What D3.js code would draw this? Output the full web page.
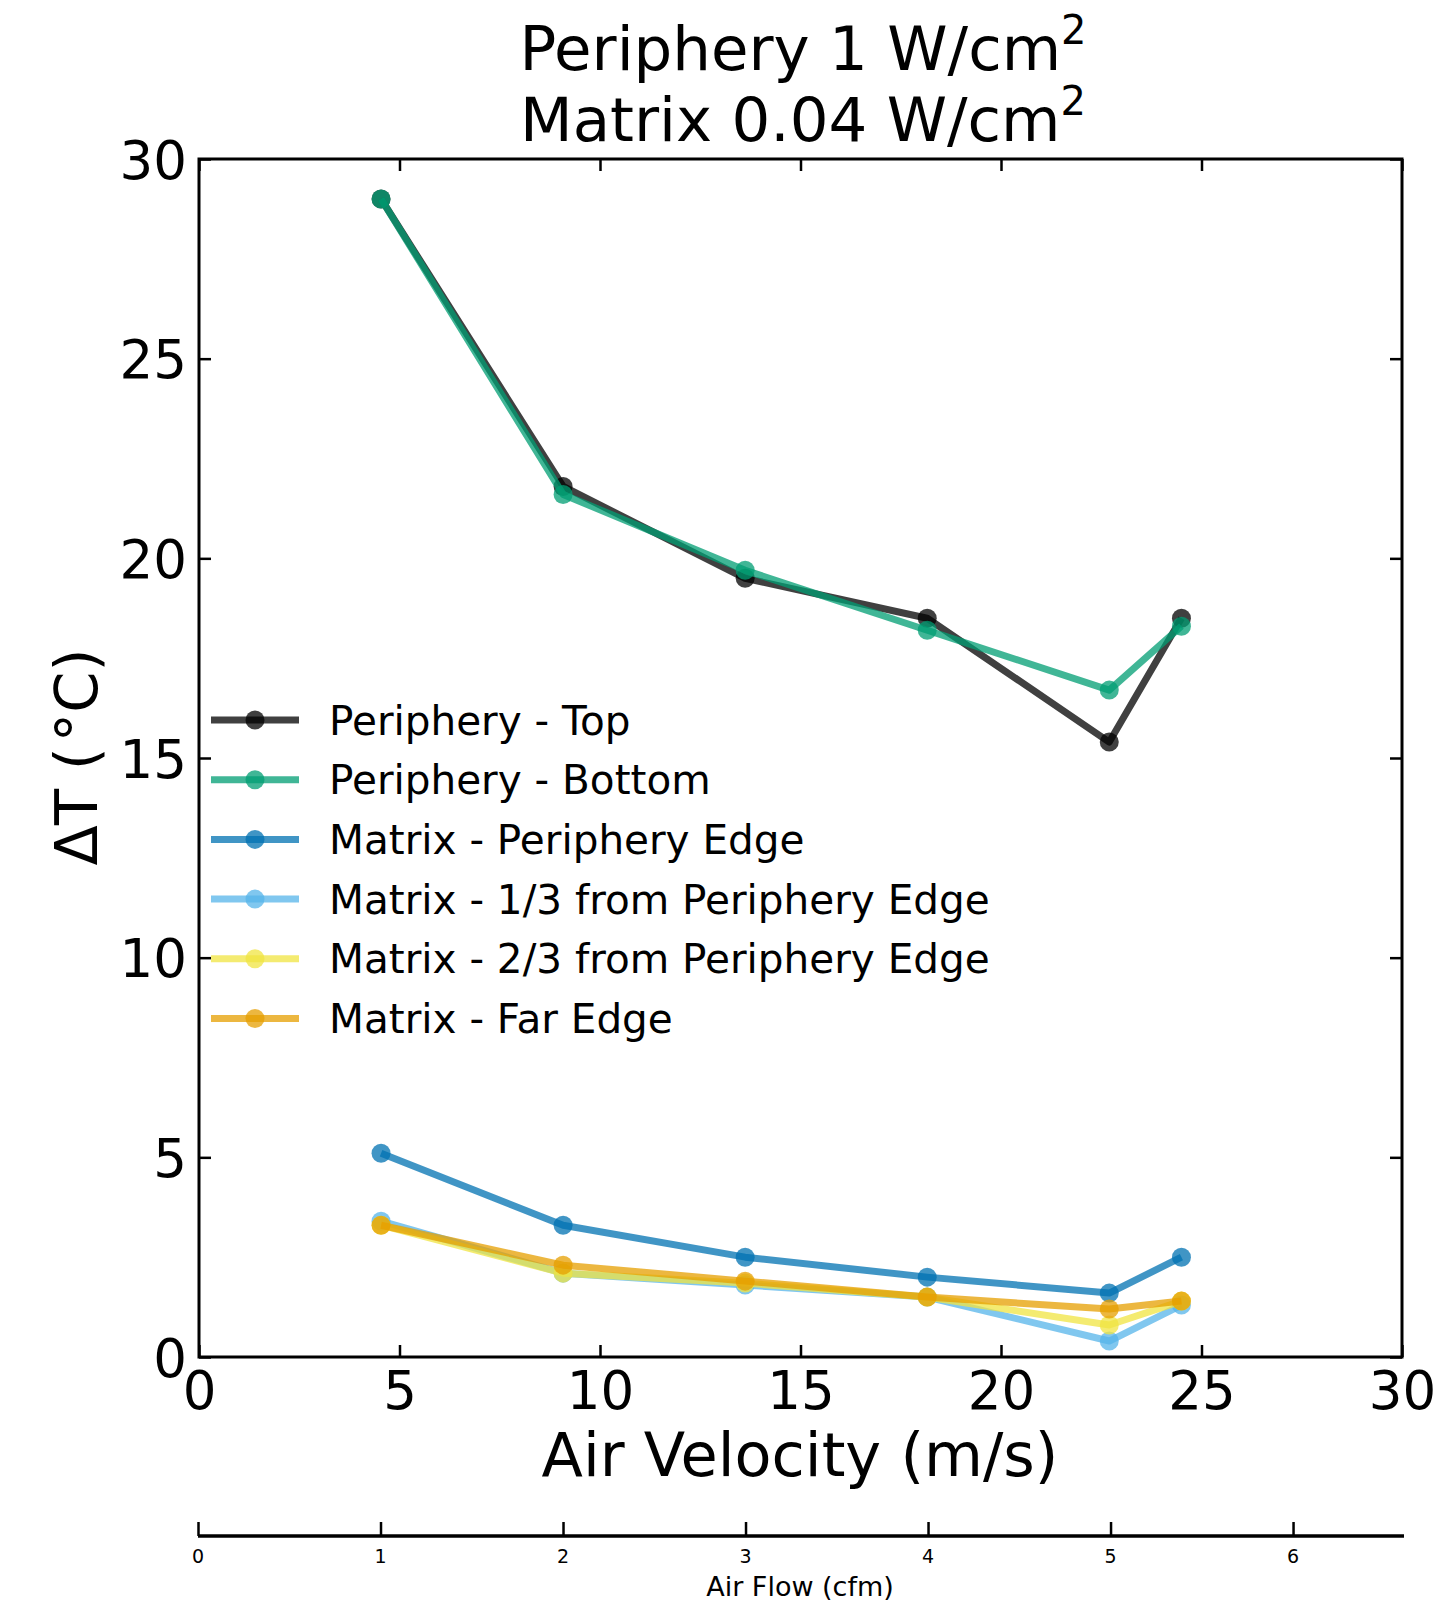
<!DOCTYPE html>
<html><head><meta charset="utf-8">
<script src="https://cdn.jsdelivr.net/npm/d3@7"></script>
<style>
html,body{margin:0;padding:0;background:#fff;}
text{font-family:"DejaVu Sans",sans-serif;fill:#000;}
</style></head>
<body>
<svg id="chart" width="1455" height="1602"></svg>
<script>
// ---- data ----
const velocity = [4.54, 9.08, 13.62, 18.16, 22.7, 24.5];
const seriesNames = ["Periphery - Top","Periphery - Bottom","Matrix - Periphery Edge","Matrix - 1/3 from Periphery Edge","Matrix - 2/3 from Periphery Edge","Matrix - Far Edge"];
const peripheryTop    = [29.0, 21.8, 19.5, 18.5, 15.4, 18.5];
const peripheryBottom = [29.0, 21.6, 19.7, 18.2, 16.7, 18.3];
const matrixEdge      = [5.1, 3.3, 2.5, 2.0, 1.6, 2.5];
const matrixThird     = [3.4, 2.1, 1.8, 1.5, 0.4, 1.3];
const matrixTwoThird  = [3.3, 2.1, 1.85, 1.5, 0.8, 1.4];
const matrixFar       = [3.3, 2.3, 1.9, 1.5, 1.2, 1.4];
const seriesColors = ["#000000","#009E73","#0072B2","#56B4E9","#F0E442","#E69F00"];
const xTicks = [0,5,10,15,20,25,30];
const yTicks = [0,5,10,15,20,25,30];
const cfmTicks = [0,1,2,3,4,5,6];
const cfmPerVelocity = 1/4.54;

const allSeries = [peripheryTop, peripheryBottom, matrixEdge, matrixThird, matrixTwoThird, matrixFar];

const svg = d3.select("#chart");
const L=199, R=1402, T=159, B=1357;
const x = d3.scaleLinear().domain([0,30]).range([L,R]);
const y = d3.scaleLinear().domain([0,30]).range([B,T]);
const xc = d3.scaleLinear().domain([0,30*cfmPerVelocity]).range([198,1404]);

// title
const title = svg.append("text").attr("text-anchor","middle").style("font-size","61px");
title.append("tspan").attr("x",803).attr("y",70).text("Periphery 1 W/cm");
title.append("tspan").attr("dy",-26).style("font-size","40px").text("2");
const title2 = svg.append("text").attr("text-anchor","middle").style("font-size","61px");
title2.append("tspan").attr("x",803).attr("y",141).text("Matrix 0.04 W/cm");
title2.append("tspan").attr("dy",-26).style("font-size","40px").text("2");

// axes
function styleAxis(g, fs){
  g.selectAll(".domain").remove();
  g.selectAll(".tick line").attr("stroke","#000").attr("stroke-width",2.5);
  g.selectAll(".tick text").style("font-size",fs).style("font-family","DejaVu Sans");
}
const gx = svg.append("g").attr("transform",`translate(0,${B})`)
  .call(d3.axisBottom(x).tickValues(xTicks).tickSize(-12).tickPadding(14).tickFormat(d3.format("d")));
styleAxis(gx,"53px");
const gxt = svg.append("g").attr("transform",`translate(0,${T})`)
  .call(d3.axisTop(x).tickValues(xTicks).tickSize(-12).tickFormat(""));
styleAxis(gxt,"1px");
const gy = svg.append("g").attr("transform",`translate(${L},0)`)
  .call(d3.axisLeft(y).tickValues(yTicks).tickSize(-12).tickPadding(12).tickFormat(d3.format("d")));
styleAxis(gy,"53px");
gy.selectAll(".tick text").attr("dy","0.36em");
const gyr = svg.append("g").attr("transform",`translate(${R},0)`)
  .call(d3.axisRight(y).tickValues(yTicks).tickSize(-12).tickFormat(""));
styleAxis(gyr,"1px");

svg.append("rect").attr("x",L).attr("y",T).attr("width",R-L).attr("height",B-T)
  .attr("fill","none").attr("stroke","#000").attr("stroke-width",3);

// axis labels
svg.append("text").attr("x",800).attr("y",1476).attr("text-anchor","middle").style("font-size","60.5px").text("Air Velocity (m/s)");
const yl = svg.append("text").attr("transform","translate(97,757) rotate(-90)").attr("text-anchor","middle").style("font-size","59px");
yl.append("tspan").text("ΔT (");
yl.append("tspan").attr("dx",5).text("°");
yl.append("tspan").text("C)");

// secondary axis
const gc = svg.append("g").attr("transform","translate(0,1536)")
  .call(d3.axisTop(xc).tickValues(cfmTicks).tickSize(14).tickFormat(""));
gc.select(".domain").attr("stroke","#000").attr("stroke-width",3.5).attr("d","M198,0H1404");
gc.selectAll(".tick line").attr("stroke","#000").attr("stroke-width",2.5);
gc.selectAll(".cl").data(cfmTicks).enter().append("text")
  .attr("x",d=>xc(d)).attr("y",27).attr("text-anchor","middle").style("font-size","19px").text(d=>d);
svg.append("text").attr("x",800).attr("y",1596).attr("text-anchor","middle").style("font-size","27px").text("Air Flow (cfm)");

// series
const line = d3.line().x((d,i)=>x(velocity[i])).y(d=>y(d));
allSeries.forEach((s,k)=>{
  const g = svg.append("g");
  g.append("path").datum(s).attr("d",line).attr("fill","none")
    .attr("stroke",seriesColors[k]).attr("stroke-width",7).attr("stroke-opacity",0.75)
    .attr("stroke-linejoin","round");
  g.selectAll("circle").data(s).enter().append("circle")
    .attr("cx",(d,i)=>x(velocity[i])).attr("cy",d=>y(d)).attr("r",9.5)
    .attr("fill",seriesColors[k]).attr("fill-opacity",0.75);
});

// legend
const lg = svg.append("g");
seriesNames.forEach((n,k)=>{
  const yy = 720 + k*59.7;
  lg.append("line").attr("x1",211).attr("x2",299).attr("y1",yy).attr("y2",yy)
    .attr("stroke",seriesColors[k]).attr("stroke-width",7).attr("stroke-opacity",0.75);
  lg.append("circle").attr("cx",255).attr("cy",yy).attr("r",9.5).attr("fill",seriesColors[k]).attr("fill-opacity",0.75);
  lg.append("text").attr("x",329).attr("y",yy).attr("dy","0.36em").style("font-size","40.5px").text(n);
});
</script>
</body></html>
